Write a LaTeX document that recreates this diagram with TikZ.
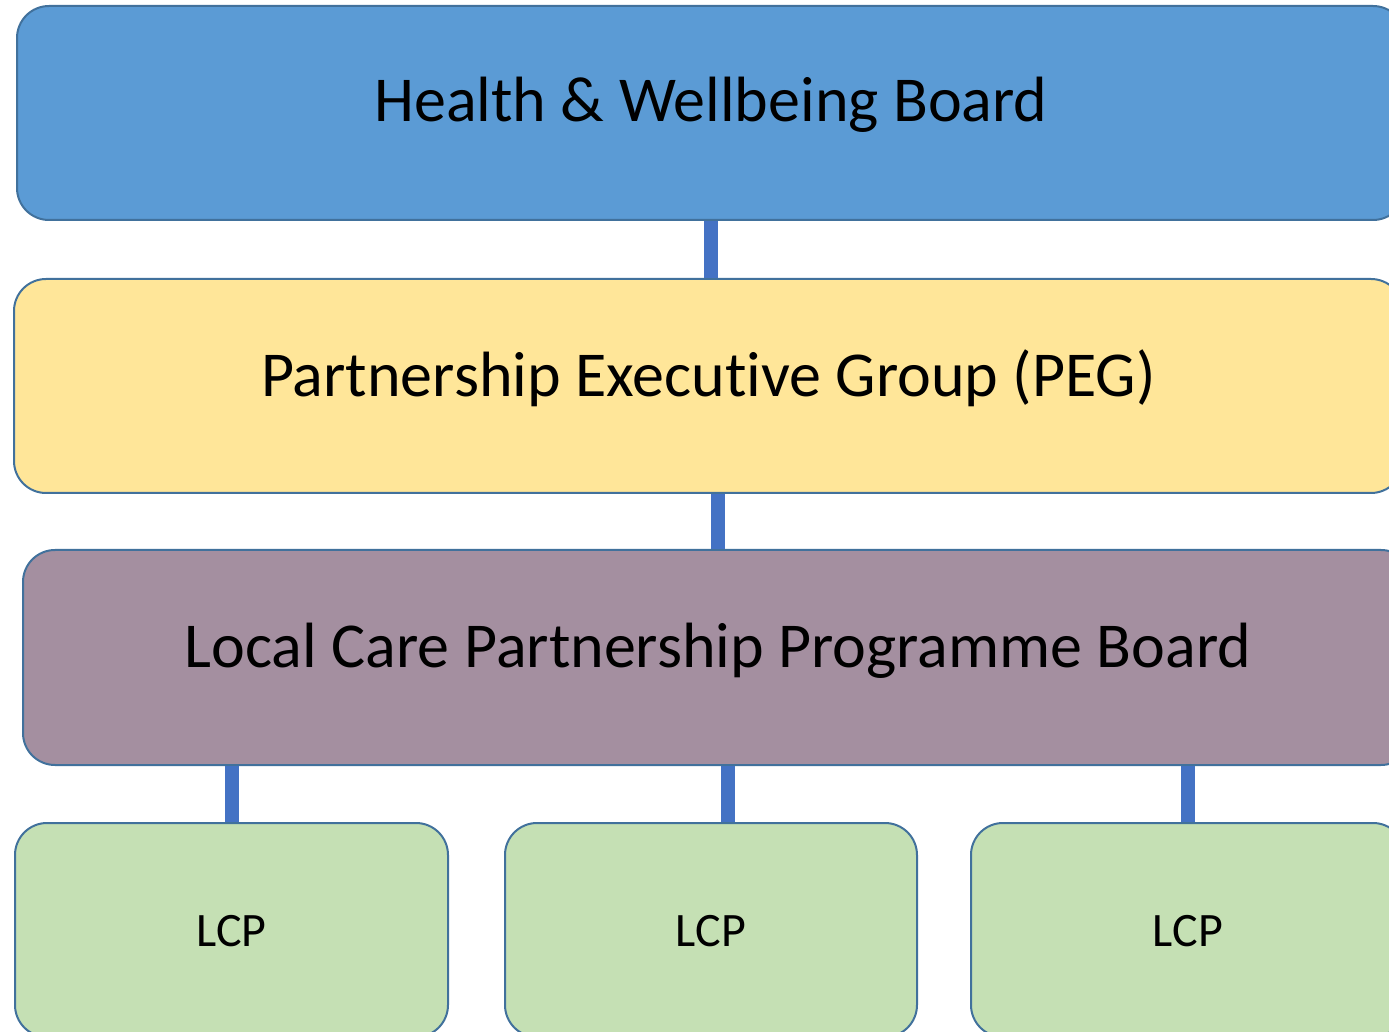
\documentclass[tikz,border=0pt]{standalone}
\usepackage{fontspec}
\setmainfont{Carlito}[Ligatures=CommonOff]
\definecolor{hwbblue}{HTML}{5B9BD5}
\definecolor{pegyellow}{HTML}{FFE699}
\definecolor{lcpbmauve}{HTML}{A48FA0}
\definecolor{lcpgreen}{HTML}{C5E0B4}
\definecolor{edgeblue}{HTML}{41719C}
\definecolor{linkblue}{HTML}{4472C4}
\begin{document}
\begin{tikzpicture}[x=0.5pt,y=-0.5pt,
  box/.style={draw=edgeblue, line width=1pt, rounded corners=16pt, inner sep=0pt,
    text height=10pt, text depth=0pt, font=\fontsize{32}{38}\selectfont},
  lcpbox/.style={box, fill=lcpgreen, minimum height=107pt, text height=16pt,
    font=\fontsize{24}{29}\selectfont},
  link/.style={draw=linkblue, line width=7pt}]
\useasboundingbox (0,0) rectangle (1389,1032);
\clip (0,0) rectangle (1389,1032);
%boards
\node [box, fill=hwbblue, minimum width=694pt, minimum height=107pt, text height=9pt]
  (hwb) at (711,113) {Health \& Wellbeing Board};
\node [box, fill=pegyellow, minimum width=694.5pt, minimum height=107pt, text height=11pt]
  (peg) at (708.5,386) {Partnership Executive Group (PEG)};
\node [box, fill=lcpbmauve, minimum width=695pt, minimum height=107.5pt]
  (lcpb) at (718,657.5) {Local Care Partnership Programme Board};
%the three LCPs
\node [lcpbox, minimum width=216.5pt] (lcpa) at (231.5,930) {LCP};
\node [lcpbox, minimum width=206pt] (lcpb2) at (711,930) {LCP};
\node [lcpbox, minimum width=217pt] (lcpc) at (1188,930) {LCP};

\draw [link] (hwb.south) -- (hwb.south |- peg.north);
\draw [link] (peg.south -| lcpb.north) -- (lcpb.north);
\draw [link] (lcpb.south -| lcpa.north) -- (lcpa.north);
\draw [link] ([xshift=8.5pt]lcpb2.north |- lcpb.south) -- ([xshift=8.5pt]lcpb2.north);
\draw [link] (lcpb.south -| lcpc.north) -- (lcpc.north);
\end{tikzpicture}
\end{document}
